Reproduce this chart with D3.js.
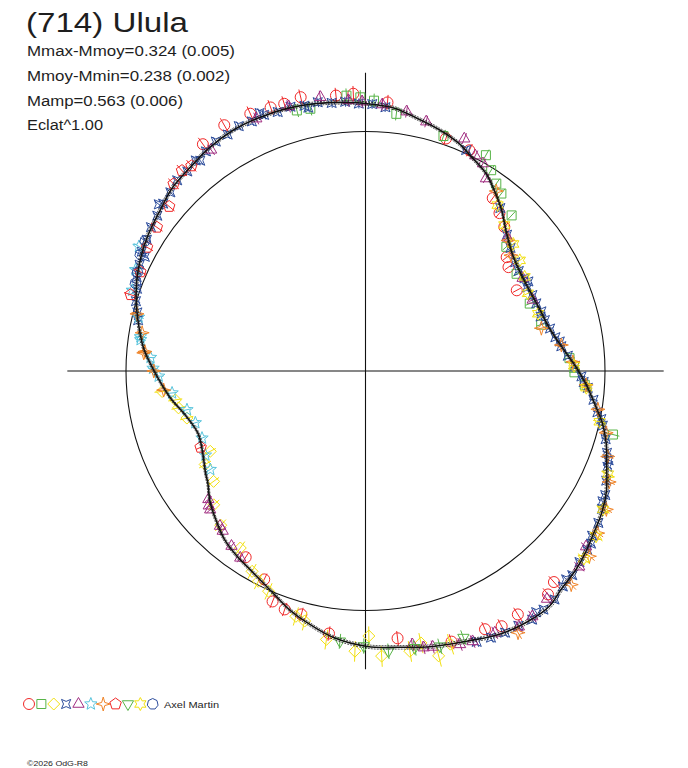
<!DOCTYPE html>
<html>
<head>
<meta charset="utf-8">
<title>(714) Ulula</title>
<script src="https://cdn.jsdelivr.net/npm/d3@7/dist/d3.min.js"></script>
<style>
  body { margin: 0; background: #ffffff; }
  text { font-family: "Liberation Sans", Arial, sans-serif; fill: #1e1e1e; }
</style>
</head>
<body>
<svg width="688" height="768" id="mainsvg"></svg>
<script>
// ---- data (phase 0..1, magnitude relative to mean, + = fainter) ----
const title = '(714) Ulula';
const infoLines = ['Mmax-Mmoy=0.324 (0.005)', 'Mmoy-Mmin=0.238 (0.002)', 'Mamp=0.563 (0.006)', 'Eclat^1.00'];
const observer = 'Axel Martin';
const credit = '©2026 OdG-R8';

// fitted light curve
const fitPhase = [0.000,0.016,0.033,0.047,0.062,0.074,0.087,0.099,0.112,0.125,0.142,0.158,0.177,0.194,0.213,0.231,0.247,0.259,0.275,0.284,0.296,0.310,0.324,0.336,0.348,0.360,0.370,0.384,0.394,0.409,0.425,0.443,0.462,0.481,0.499,0.519,0.536,0.549,0.560,0.572,0.584,0.596,0.611,0.623,0.638,0.652,0.660,0.676,0.693,0.710,0.729,0.746,0.756,0.767,0.785,0.798,0.810,0.823,0.838,0.856,0.871,0.887,0.903,0.920,0.937,0.954,0.971,0.991];
const fitMag = [-0.120,-0.109,-0.079,-0.057,-0.029,0.005,0.037,0.085,0.140,0.203,0.262,0.288,0.294,0.283,0.259,0.206,0.140,0.090,0.027,-0.012,-0.051,-0.087,-0.128,-0.152,-0.169,-0.190,-0.205,-0.220,-0.239,-0.239,-0.228,-0.202,-0.183,-0.163,-0.152,-0.124,-0.083,-0.049,-0.013,0.020,0.046,0.065,0.094,0.130,0.176,0.233,0.254,0.297,0.318,0.283,0.209,0.150,0.114,0.075,0.029,-0.003,-0.029,-0.052,-0.073,-0.093,-0.115,-0.125,-0.140,-0.149,-0.149,-0.146,-0.138,-0.126];
const fitBand = 0.007;

// observing sessions: [phase, mag]
const s1 = [[0.933,-0.177],[0.953,-0.167],[0.963,-0.175],[0.983,-0.158],[0.993,-0.160],[0.013,-0.128],[0.917,-0.183],[0.901,-0.166],[0.945,-0.170],[0.053,-0.029],[0.070,-0.020],[0.101,0.119],[0.112,0.158],[0.122,0.195],[0.142,0.302],[0.150,0.330],[0.172,0.363],[0.384,-0.181],[0.391,-0.202],[0.411,-0.197],[0.422,-0.205],[0.431,-0.187],[0.451,-0.185],[0.481,-0.127],[0.522,-0.110],[0.541,-0.054],[0.552,-0.054],[0.561,-0.040],[0.572,0.036],[0.591,0.085]];
const s2 = [[0.959,-0.128],[0.967,-0.122],[0.989,-0.154],[0.997,-0.145],[0.005,-0.132],[0.019,-0.085],[0.051,-0.036],[0.081,-0.034],[0.089,0.012],[0.097,0.051],[0.104,0.075],[0.120,0.125],[0.135,0.264],[0.159,0.312],[0.188,0.325],[0.209,0.300],[0.240,0.172],[0.251,0.148],[0.260,0.094],[0.290,-0.070]];
const s3 = [[0.734,0.172],[0.726,0.238],[0.719,0.248],[0.709,0.282],[0.674,0.342],[0.666,0.277],[0.650,0.264],[0.635,0.183],[0.620,0.135],[0.598,0.108],[0.582,0.043],[0.575,0.016],[0.566,-0.005],[0.544,-0.068],[0.538,-0.078],[0.523,-0.135],[0.506,-0.171],[0.498,-0.110],[0.491,-0.191],[0.475,-0.184],[0.468,-0.160],[0.460,-0.223],[0.452,-0.193]];
const s4 = [[0.785,0.030],[0.790,0.018],[0.797,-0.002],[0.805,-0.015],[0.812,-0.035],[0.820,-0.045],[0.826,-0.040],[0.828,-0.062],[0.836,-0.068],[0.844,-0.082],[0.852,-0.088],[0.858,-0.112],[0.860,-0.100],[0.868,-0.108],[0.876,-0.122],[0.884,-0.120],[0.892,-0.132],[0.894,-0.120],[0.900,-0.136],[0.908,-0.146],[0.916,-0.145],[0.924,-0.153],[0.932,-0.147],[0.938,-0.165],[0.940,-0.152],[0.948,-0.144],[0.956,-0.149],[0.964,-0.139],[0.966,-0.128],[0.972,-0.142],[0.980,-0.131],[0.988,-0.130],[0.996,-0.120],[0.004,-0.118],[0.012,-0.108],[0.068,-0.015],[0.110,0.135],[0.128,0.215],[0.138,0.250],[0.150,0.280],[0.158,0.292],[0.166,0.286],[0.170,0.275],[0.174,0.298],[0.182,0.290],[0.190,0.288],[0.198,0.276],[0.202,0.290],[0.206,0.272],[0.214,0.255],[0.222,0.235],[0.226,0.215],[0.230,0.210],[0.238,0.180],[0.246,0.145],[0.254,0.112],[0.258,0.100],[0.262,0.078],[0.270,0.045],[0.278,0.018],[0.282,-0.005],[0.286,-0.018],[0.294,-0.045],[0.302,-0.068],[0.306,-0.085],[0.310,-0.090],[0.318,-0.108],[0.326,-0.130],[0.330,-0.132],[0.334,-0.145],[0.342,-0.162],[0.350,-0.170],[0.354,-0.185],[0.358,-0.188],[0.366,-0.196],[0.374,-0.210],[0.378,-0.205],[0.382,-0.216],[0.390,-0.232],[0.398,-0.236],[0.402,-0.228],[0.406,-0.242],[0.414,-0.234],[0.422,-0.232],[0.430,-0.225],[0.438,-0.218]];
const s5 = [[0.903,-0.129],[0.935,-0.150],[0.955,-0.152],[0.974,-0.160],[0.990,-0.135],[0.998,-0.128],[0.010,-0.118],[0.025,-0.100],[0.038,-0.075],[0.064,-0.057],[0.075,-0.010],[0.082,0.005],[0.089,0.058],[0.130,0.225],[0.165,0.295],[0.186,0.300],[0.357,-0.177],[0.368,-0.207],[0.393,-0.213],[0.405,-0.233],[0.414,-0.238],[0.427,-0.215],[0.440,-0.211],[0.447,-0.205],[0.462,-0.185],[0.467,-0.180],[0.473,-0.160],[0.594,0.068],[0.604,0.090],[0.616,0.120],[0.620,0.129],[0.634,0.152],[0.637,0.160],[0.641,0.180]];
const s6 = [[0.830,-0.083],[0.816,-0.052],[0.803,-0.033],[0.787,0.029],[0.774,0.055],[0.772,0.058],[0.760,0.115],[0.752,0.130],[0.746,0.159],[0.732,0.225],[0.716,0.294],[0.703,0.323],[0.688,0.330],[0.673,0.305],[0.660,0.287]];
const s7 = [[0.100,0.080],[0.132,0.232],[0.143,0.275],[0.212,0.304],[0.229,0.209],[0.243,0.155],[0.260,0.087],[0.276,0.018],[0.290,-0.040],[0.304,-0.076],[0.318,-0.121],[0.333,-0.161],[0.347,-0.182],[0.360,-0.210],[0.378,-0.232],[0.416,-0.255],[0.789,0.018],[0.777,0.060],[0.764,0.085],[0.763,0.080],[0.750,0.134],[0.735,0.181]];
const s8 = [[0.800,-0.033],[0.816,-0.029],[0.832,-0.051],[0.846,-0.061],[0.861,-0.073],[0.873,-0.122],[0.882,-0.137],[0.888,-0.126],[0.681,0.300]];
const s9 = [[0.515,-0.136],[0.501,-0.150],[0.487,-0.174],[0.472,-0.174],[0.458,-0.189],[0.444,-0.185]];
const s10 = [[0.107,0.132],[0.121,0.188],[0.137,0.224],[0.151,0.252],[0.165,0.281],[0.179,0.310],[0.199,0.299],[0.246,0.150],[0.262,0.085],[0.284,0.000],[0.314,-0.104],[0.334,-0.150],[0.349,-0.184],[0.363,-0.200]];
const s11 = [[0.808,-0.030],[0.815,-0.040],[0.826,-0.062],[0.835,-0.072]];
const sessions = [s1, s2, s3, s4, s5, s6, s7, s8, s9, s10, s11];
const sessionErr = [0.030, 0.028, 0.040, 0.020, 0.025, 0.025, 0.025, 0.030, 0.030, 0.030, 0.020];

// ---- styles ----
const sessionColor = ['#f02828', '#58b448', '#f2e010', '#2c4c9c', '#a02c80', '#58c4dc', '#f08428', '#f02828', '#58b448', '#f2e010', '#2c4c9c'];
const sessionShape = ['circle', 'square', 'diamond', 'astroid', 'triangle', 'star5', 'star4', 'pentagon', 'triangleDown', 'star6', 'heptagon'];

const svg = d3.select('#mainsvg');
const cx = 365.5, cy = 371;
const rScale = d3.scaleLinear().domain([0, 1]).range([0, 239.5]);
const aScale = d3.scaleLinear().domain([0, 1]).range([0, 2 * Math.PI]);
const flux = m => Math.pow(10, -0.4 * m);
const axisFlux = 1.245;

// polygon / star outlines, vertex 0 at the top
const ring = (pts) => 'M' + pts.map(p => p[0].toFixed(2) + ',' + p[1].toFixed(2)).join('L') + 'Z';
const poly = (n, R, rot) => ring(d3.range(n).map(k => d3.pointRadial(rot + k * 2 * Math.PI / n, R)));
const star = (n, ro, ri, rot) => ring(d3.range(2 * n).map(k => d3.pointRadial(rot + k * Math.PI / n, k % 2 ? ri : ro)));
const shapePath = function(kind){
    switch(kind){
        case 'circle': { const p = d3.path(); p.arc(0, 0, 5.5, 0, 2 * Math.PI); p.closePath(); return p.toString(); }
        case 'square': return 'M-4.5,-4.5H4.5V4.5H-4.5Z';
        case 'diamond': return poly(4, 6, 0);
        case 'astroid': return star(4, 6.5, 2.6, Math.PI / 4);
        case 'triangle': return poly(3, 6.5, 0);
        case 'star5': return star(5, 6.5, 2.8, 0);
        case 'star4': return star(4, 7, 2.2, 0);
        case 'pentagon': return poly(5, 6, 0);
        case 'triangleDown': return poly(3, 6.5, Math.PI);
        case 'star6': return star(6, 6.5, 3.6, 0);
        default: return poly(7, 5.5, 0);
    }
};

const g = svg.append('g').attr('transform', `translate(${cx}, ${cy})`);

// axes and mean-brightness circle
const ext = rScale(axisFlux);
g.append('line').attr('x1', -ext).attr('x2', ext).attr('y1', 0).attr('y2', 0)
  .attr('stroke', '#111').attr('stroke-width', 1.1);
g.append('line').attr('x1', 0).attr('x2', 0).attr('y1', -ext).attr('y2', ext)
  .attr('stroke', '#111').attr('stroke-width', 1.1);
g.append('circle').attr('r', rScale(1)).attr('fill', 'none')
  .attr('stroke', '#111').attr('stroke-width', 1.1);

// measurements with radial error bars
sessions.forEach((pts, i) => {
    const sg = g.append('g').attr('stroke', sessionColor[i]).attr('fill', 'none').attr('stroke-width', 1);
    const e = sessionErr[i];
    pts.forEach(d => {
        const a = aScale(d[0]);
        const [x, y] = d3.pointRadial(a, rScale(flux(d[1])));
        const [x1, y1] = d3.pointRadial(a, rScale(flux(d[1] + e)));
        const [x2, y2] = d3.pointRadial(a, rScale(flux(d[1] - e)));
        sg.append('line').attr('x1', x1).attr('y1', y1).attr('x2', x2).attr('y2', y2);
        sg.append('path').attr('d', shapePath(sessionShape[i])).attr('transform', `translate(${x}, ${y})`);
    });
});

// fitted curve with its uncertainty band
const fit = fitPhase.map((p, i) => [p, fitMag[i]]);
const radial = off => d3.lineRadial()
    .angle(d => aScale(d[0]))
    .radius(d => rScale(flux(d[1] + off)))
    .curve(d3.curveCatmullRomClosed);
[-fitBand, fitBand].forEach(off => {
    g.append('path').attr('d', radial(off)(fit)).attr('fill', 'none')
      .attr('stroke', '#111').attr('stroke-width', 0.7).attr('stroke-dasharray', '2,1');
});
g.append('path').attr('d', radial(0)(fit)).attr('fill', 'none')
  .attr('stroke', '#111').attr('stroke-width', 1.6);

// header texts
svg.append('text').attr('x', 26).attr('y', 32).attr('font-size', 27)
  .attr('textLength', 162).attr('lengthAdjust', 'spacingAndGlyphs').text(title);
const infoWidth = [208, 203, 156, 76];
infoLines.forEach((t, i) => {
    svg.append('text').attr('x', 27).attr('y', 56 + i * 24.8).attr('font-size', 15.5)
      .attr('textLength', infoWidth[i]).attr('lengthAdjust', 'spacingAndGlyphs').text(t);
});

// legend of sessions
const lg = svg.append('g').attr('transform', 'translate(29, 704)');
sessionShape.forEach((s, i) => {
    lg.append('path').attr('d', shapePath(s)).attr('transform', `translate(${i * 12.37}, 0)`)
      .attr('fill', 'none').attr('stroke', sessionColor[i]).attr('stroke-width', 1);
});
svg.append('text').attr('x', 164).attr('y', 708).attr('font-size', 9)
  .attr('textLength', 55).attr('lengthAdjust', 'spacingAndGlyphs').text(observer);
svg.append('text').attr('x', 27).attr('y', 766).attr('font-size', 8)
  .attr('textLength', 61).attr('lengthAdjust', 'spacingAndGlyphs').text(credit);
</script>
</body>
</html>
